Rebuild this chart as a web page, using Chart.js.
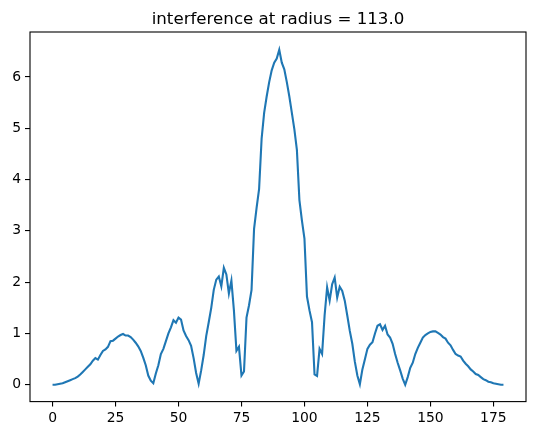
<!DOCTYPE html>
<html>
<head>
<meta charset="utf-8">
<script src="https://cdn.jsdelivr.net/npm/chart.js@4"></script>
<style>
html,body{margin:0;padding:0;background:#fff;}
canvas{display:block;}
</style>
</head>
<body>
<canvas id="c" width="534" height="435"></canvas>
<script>
const titleText = "interference at radius = 113.0";
const intensity = [
  0.00,0.00,0.01,0.02,0.03,0.05,0.07,0.09,0.11,0.13,
  0.16,0.20,0.25,0.30,0.35,0.40,0.47,0.52,0.49,0.58,
  0.66,0.69,0.74,0.85,0.86,0.90,0.94,0.97,0.99,0.96,
  0.96,0.93,0.88,0.82,0.75,0.66,0.53,0.38,0.18,0.08,
  0.03,0.22,0.38,0.60,0.70,0.85,1.00,1.12,1.26,1.21,
  1.31,1.27,1.06,0.95,0.87,0.76,0.52,0.23,0.02,0.28,
  0.58,0.95,1.22,1.50,1.85,2.05,2.11,1.92,2.28,2.15,
  1.78,2.03,1.45,0.66,0.74,0.18,0.26,1.31,1.55,1.85,
  3.04,3.45,3.82,4.80,5.30,5.62,5.90,6.13,6.28,6.36,
  6.53,6.28,6.15,5.90,5.62,5.30,4.98,4.58,3.60,3.20,
  2.85,1.72,1.45,1.22,0.20,0.17,0.70,0.60,1.35,1.90,
  1.64,1.96,2.09,1.70,1.91,1.83,1.64,1.35,1.05,0.80,
  0.45,0.18,0.01,0.30,0.50,0.70,0.78,0.83,1.00,1.15,
  1.18,1.07,1.15,0.98,0.92,0.80,0.60,0.43,0.28,0.12,
  0.00,0.15,0.33,0.43,0.60,0.72,0.82,0.92,0.97,1.00,
  1.03,1.04,1.04,1.01,0.98,0.93,0.90,0.82,0.77,0.68,
  0.60,0.57,0.55,0.47,0.41,0.36,0.30,0.26,0.21,0.19,
  0.15,0.11,0.09,0.06,0.05,0.03,0.02,0.01,0.00,0.00
];
const positions = intensity.map((_, i) => i);
const xTicks = [0, 25, 50, 75, 100, 125, 150, 175];
const yTicks = [0, 1, 2, 3, 4, 5, 6];
const xRange = [-8.95, 187.95];
const yRange = [-0.328, 6.877];

const frame = {
  id: 'frame',
  afterDraw(chart) {
    const {ctx, chartArea: a} = chart;
    ctx.save();
    ctx.strokeStyle = '#000';
    ctx.lineWidth = 1.1;
    ctx.strokeRect(a.left, a.top, a.right - a.left, a.bottom - a.top);
    ctx.fillStyle = '#000';
    ctx.font = '16.67px "DejaVu Sans"';
    ctx.textAlign = 'center';
    ctx.textBaseline = 'alphabetic';
    ctx.fillText(titleText, (a.left + a.right) / 2, a.top - 8.3);
    ctx.restore();
  }
};

new Chart(document.getElementById('c'), {
  type: 'line',
  data: {
    datasets: [{
      data: positions.map((x, i) => ({x: x, y: intensity[i]})),
      borderColor: '#1f77b4',
      borderWidth: 2.1,
      pointRadius: 0,
      tension: 0,
      fill: false
    }]
  },
  options: {
    responsive: false,
    animation: false,
    devicePixelRatio: 1,
    layout: {padding: {top: 32, right: 8, left: 0, bottom: 0}},
    plugins: {legend: {display: false}, tooltip: {enabled: false}, title: {display: false}},
    scales: {
      x: {
        type: 'linear',
        min: xRange[0], max: xRange[1],
        afterBuildTicks(s) { s.ticks = xTicks.map(v => ({value: v})); },
        afterFit(s) { s.height = 33.4; },
        grid: {drawOnChartArea: false, tickLength: 5, color: '#000', lineWidth: 1.1},
        border: {display: false},
        ticks: {color: '#000', font: {family: 'DejaVu Sans', size: 13.9}, padding: 3, maxRotation: 0, autoSkip: false,
                callback: v => String(v)}
      },
      y: {
        type: 'linear',
        min: yRange[0], max: yRange[1],
        afterBuildTicks(s) { s.ticks = yTicks.map(v => ({value: v})); },
        afterFit(s) { s.width = 30; },
        grid: {drawOnChartArea: false, tickLength: 5, color: '#000', lineWidth: 1.1},
        border: {display: false},
        ticks: {color: '#000', font: {family: 'DejaVu Sans', size: 13.9}, padding: 4, autoSkip: false,
                callback: v => String(v)}
      }
    }
  },
  plugins: [frame]
});
</script>
</body>
</html>
